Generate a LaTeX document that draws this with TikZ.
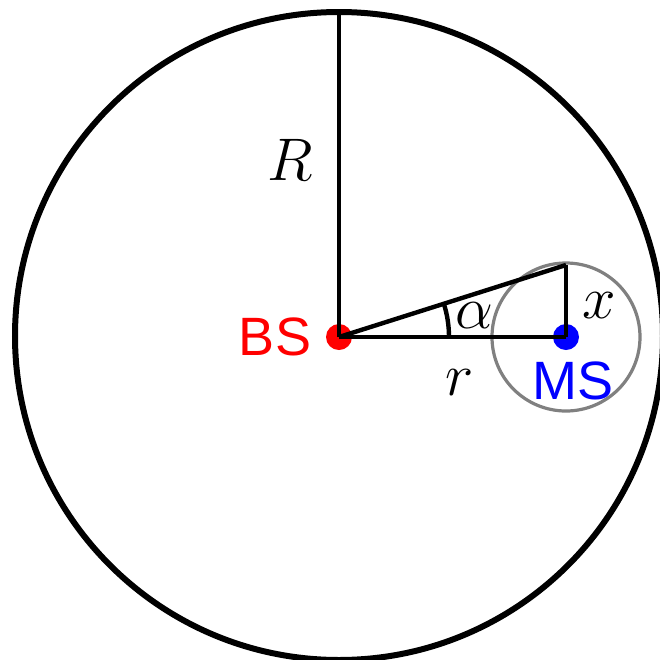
\documentclass[tikz,border=0pt]{standalone}
\usepackage{fontspec}
\setsansfont{Liberation Sans}
\begin{document}
\begin{tikzpicture}[x=0.5pt,y=-0.5pt,
  lbl/.style={font=\fontsize{20}{24}\selectfont, inner sep=0pt, scale=1.45},
  slbl/.style={font=\fontsize{27}{32}\selectfont\sffamily, inner sep=0pt},
  dotnode/.style={circle, inner sep=0pt, minimum size=13pt},
  edge/.style={line width=2.2pt, black}]
\useasboundingbox (0,0) rectangle (660,660);
% outer cell
\draw[line width=3pt] (339,336) circle[radius=324];
% dots
\node[dotnode, fill=red] (BS) at (339,337) {};
\node[dotnode, fill=blue] (MS) at (566,337) {};
\coordinate (T) at (566,265);
\coordinate (Top) at (339,13);
% small circle
\draw[line width=1.6pt, gray] (MS.center) circle[radius=74];
% lines
\draw[edge] (BS.center) -- (Top);
\draw[edge] (BS.center) -- (MS.center);
\draw[edge] (MS.center) -- (T);
\draw[edge] (BS.center) -- (T);
\draw[edge] (BS.center) ++(0:110) arc[start angle=0, end angle=-17.6, radius=110];
% labels
\node[lbl] (lR) at (290,160) {$R$};
\node[lbl] (lr) at (460,383) {$r$};
\node[lbl] (lx) at (599,306) {$x$};
\node[lbl] (la) at (474,316) {$\alpha$};
\node[slbl, text=red] (lBS) at (275,337) {BS};
\node[slbl, text=blue] (lMS) at (573,381) {MS};
\end{tikzpicture}
\end{document}
